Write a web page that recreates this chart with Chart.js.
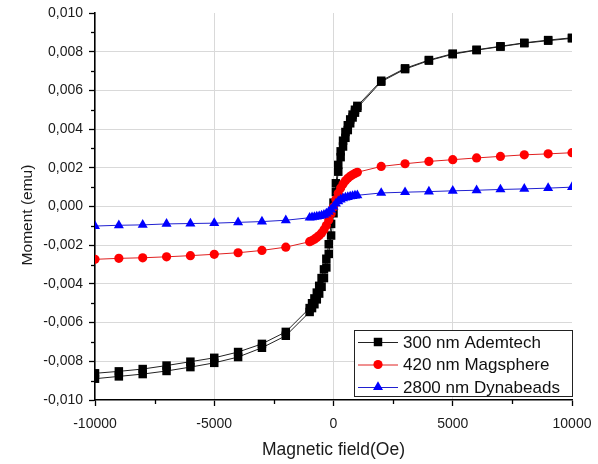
<!DOCTYPE html>
<html><head><meta charset="utf-8">
<script src="https://cdn.jsdelivr.net/npm/chart.js@4.4.1/dist/chart.umd.min.js"></script>
<style>html,body{margin:0;padding:0;background:#fff;}#wrap{width:598px;height:464px;}</style>
</head><body><div id="wrap"><canvas id="c" width="598" height="464"></canvas></div>
<script>
// Magnetic field (Oe), ascending order
const field = [-10000,-9000,-8000,-7000,-6000,-5000,-4000,-3000,-2000,-1000,-900,-800,-700,-600,-500,-400,-300,-200,-100,0,100,200,300,400,500,600,700,800,900,1000,2000,3000,4000,5000,6000,7000,8000,9000,10000];
// 300 nm Ademtech, ascending branch (emu)
const ademUp = [-0.00890,-0.00878,-0.00866,-0.00850,-0.00830,-0.00808,-0.00778,-0.00730,-0.00668,-0.00545,-0.00525,-0.00505,-0.00480,-0.00450,-0.00415,-0.00370,-0.00315,-0.00245,-0.00150,-0.00035,0.00075,0.00180,0.00255,0.00310,0.00355,0.00395,0.00430,0.00460,0.00485,0.00510,0.00645,0.00710,0.00754,0.00787,0.00808,0.00826,0.00844,0.00857,0.00869];
// 300 nm Ademtech, descending branch (emu), listed in ascending field order
const ademDown = [-0.00862,-0.00852,-0.00840,-0.00822,-0.00802,-0.00782,-0.00752,-0.00710,-0.00648,-0.00525,-0.00500,-0.00475,-0.00445,-0.00410,-0.00370,-0.00325,-0.00270,-0.00195,-0.00090,0.00020,0.00120,0.00215,0.00285,0.00340,0.00385,0.00420,0.00450,0.00475,0.00500,0.00520,0.00650,0.00714,0.00757,0.00790,0.00810,0.00828,0.00846,0.00860,0.00872];
// 420 nm Magsphere (emu)
const magsphere = [-0.00273,-0.00268,-0.00265,-0.00260,-0.00254,-0.00247,-0.00239,-0.00227,-0.00210,-0.00182,-0.00176,-0.00169,-0.00160,-0.00150,-0.00137,-0.00120,-0.00098,-0.00070,-0.00038,-0.00002,0.00036,0.00068,0.00095,0.00116,0.00133,0.00146,0.00156,0.00164,0.00171,0.00177,0.00207,0.00221,0.00233,0.00242,0.00251,0.00259,0.00267,0.00272,0.00278];
// 2800 nm Dynabeads (emu)
const dynabeads = [-0.00101,-0.00097,-0.00095,-0.00090,-0.00088,-0.00086,-0.00082,-0.00078,-0.00071,-0.00058,-0.00056,-0.00054,-0.00052,-0.00050,-0.00047,-0.00043,-0.00037,-0.00028,-0.00016,-0.00001,0.00015,0.00027,0.00036,0.00042,0.00046,0.00049,0.00052,0.00054,0.00056,0.00058,0.00070,0.00074,0.00077,0.00081,0.00084,0.00088,0.00091,0.00095,0.00100];
const seriesNames = ['300 nm Ademtech','420 nm Magsphere','2800 nm Dynabeads'];
const xTicks = [-10000,-5000,0,5000,10000];
const xMinorTicks = [-7500,-2500,2500,7500];
const yTicks = [-0.010,-0.008,-0.006,-0.004,-0.002,0,0.002,0.004,0.006,0.008,0.010];
const yMinorTicks = [-0.009,-0.007,-0.005,-0.003,-0.001,0.001,0.003,0.005,0.007,0.009];
const yTitle = 'Moment (emu)';
const xTitle = 'Magnetic field(Oe)';

const FONT = "'Liberation Sans', Arial, sans-serif";

// loop: descending branch (from +H to -H), then ascending branch
const ademData = [];
for (let i = field.length - 1; i >= 0; i--) ademData.push({x: field[i], y: ademDown[i]});
for (let i = 0; i < field.length; i++) ademData.push({x: field[i], y: ademUp[i]});
const magData = field.map((h, i) => ({x: h, y: magsphere[i]}));
const dynData = field.map((h, i) => ({x: h, y: dynabeads[i]}));

const styles = [
  {color:'#000000', line:'#222222', shape:'rect', r:6},
  {color:'#ff0000', line:'#e02020', shape:'circle', r:4.6},
  {color:'#0000ff', line:'#2020d0', shape:'triangle', r:5.8}
];

function drawMarker(ctx, shape, x, y, r, color) {
  ctx.fillStyle = color;
  ctx.beginPath();
  if (shape === 'rect') {
    const s = r * Math.SQRT1_2;
    ctx.rect(x - s, y - s, 2 * s, 2 * s);
  } else if (shape === 'circle') {
    ctx.arc(x, y, r, 0, Math.PI * 2);
  } else {
    ctx.moveTo(x, y - r);
    ctx.lineTo(x + r * Math.sin(2 * Math.PI / 3), y - r * Math.cos(2 * Math.PI / 3));
    ctx.lineTo(x + r * Math.sin(4 * Math.PI / 3), y - r * Math.cos(4 * Math.PI / 3));
    ctx.closePath();
  }
  ctx.fill();
}

const extras = {
  id: 'extras',
  afterDraw(chart) {
    const ctx = chart.ctx, xs = chart.scales.x, ys = chart.scales.y;
    ctx.save();
    ctx.strokeStyle = '#000';
    ctx.lineWidth = 1.3;
    for (const v of xMinorTicks) {
      const px = Math.round(xs.getPixelForValue(v)) + 0.5;
      ctx.beginPath(); ctx.moveTo(px, ys.bottom); ctx.lineTo(px, ys.bottom + 4); ctx.stroke();
    }
    for (const v of yMinorTicks) {
      const py = Math.round(ys.getPixelForValue(v)) + 0.5;
      ctx.beginPath(); ctx.moveTo(xs.left, py); ctx.lineTo(xs.left - 4, py); ctx.stroke();
    }
    // y axis title
    ctx.save();
    ctx.translate(28, 215);
    ctx.rotate(-Math.PI / 2);
    ctx.font = '15.5px ' + FONT;
    ctx.fillStyle = '#1a1a1a';
    ctx.textAlign = 'center';
    ctx.textBaseline = 'middle';
    ctx.fillText(yTitle, 0, 0);
    ctx.restore();
    // legend box
    const bx = 354, by = 330, bw = 218, bh = 66;
    ctx.fillStyle = '#fff';
    ctx.fillRect(bx, by, bw, bh);
    ctx.strokeStyle = '#222';
    ctx.lineWidth = 1;
    ctx.strokeRect(bx + 0.5, by + 0.5, bw, bh);
    ctx.font = '17px ' + FONT;
    ctx.textBaseline = 'middle';
    ctx.textAlign = 'left';
    for (let i = 0; i < seriesNames.length; i++) {
      const ry = by + 12 + i * 22.5;
      const st = styles[i];
      ctx.strokeStyle = st.line;
      ctx.lineWidth = 1;
      ctx.beginPath(); ctx.moveTo(bx + 4, ry + 0.5); ctx.lineTo(bx + 44, ry + 0.5); ctx.stroke();
      drawMarker(ctx, st.shape, bx + 24, ry, st.r, st.color);
      ctx.fillStyle = '#111';
      ctx.fillText(seriesNames[i], bx + 49, ry + 1);
    }
    ctx.restore();
  }
};

function ds(label, data, st, order) {
  return {
    label, data, showLine: true, order,
    borderColor: st.line, borderWidth: 1,
    pointStyle: st.shape, pointRadius: st.r, pointHoverRadius: st.r,
    pointBackgroundColor: st.color, pointBorderColor: st.color, pointBorderWidth: 0,
    tension: 0
  };
}

new Chart(document.getElementById('c'), {
  type: 'scatter',
  data: {
    datasets: [
      ds(seriesNames[0], ademData, styles[0], 3),
      ds(seriesNames[1], magData, styles[1], 2),
      ds(seriesNames[2], dynData, styles[2], 1)
    ]
  },
  options: {
    responsive: false,
    devicePixelRatio: 1,
    animation: false,
    layout: {padding: {top: 13, right: 26, left: 0, bottom: 0}},
    plugins: {legend: {display: false}, tooltip: {enabled: false}},
    scales: {
      x: {
        type: 'linear', position: 'bottom', min: -10000, max: 10000,
        afterBuildTicks: s => { s.ticks = xTicks.map(v => ({value: v})); },
        afterFit: s => { s.height = 64; s.paddingLeft = 0; s.paddingRight = 0; },
        ticks: {font: {family: FONT, size: 14}, color: '#1a1a1a', padding: 10, maxRotation: 0, callback: v => String(v)},
        grid: {
          color: c => (c.tick && Math.abs(c.tick.value) === 10000) ? 'rgba(0,0,0,0)' : '#d9d9d9',
          lineWidth: 1, tickColor: '#000', tickLength: 6, tickWidth: 1.3
        },
        border: {display: true, color: '#000', width: 1.6},
        title: {display: true, text: xTitle, font: {family: FONT, size: 17.5}, color: '#1a1a1a', padding: {top: 0, bottom: 3}}
      },
      y: {
        type: 'linear', position: 'left', min: -0.010, max: 0.010,
        afterBuildTicks: s => { s.ticks = yTicks.map(v => ({value: v})); },
        afterFit: s => { s.width = 95; s.paddingTop = 0; s.paddingBottom = 0; },
        ticks: {
          font: {family: FONT, size: 14}, color: '#1a1a1a', padding: 6,
          callback: v => (Math.abs(v) < 1e-9 ? 0 : v).toFixed(3).replace('.', ',')
        },
        grid: {
          color: c => (c.tick && Math.abs(Math.abs(c.tick.value) - 0.010) < 1e-9) ? 'rgba(0,0,0,0)' : '#d9d9d9',
          lineWidth: 1, tickColor: '#000', tickLength: 6, tickWidth: 1.3
        },
        border: {display: true, color: '#000', width: 1.6},
        title: {display: false}
      }
    }
  },
  plugins: [extras]
});
</script>
</body></html>
